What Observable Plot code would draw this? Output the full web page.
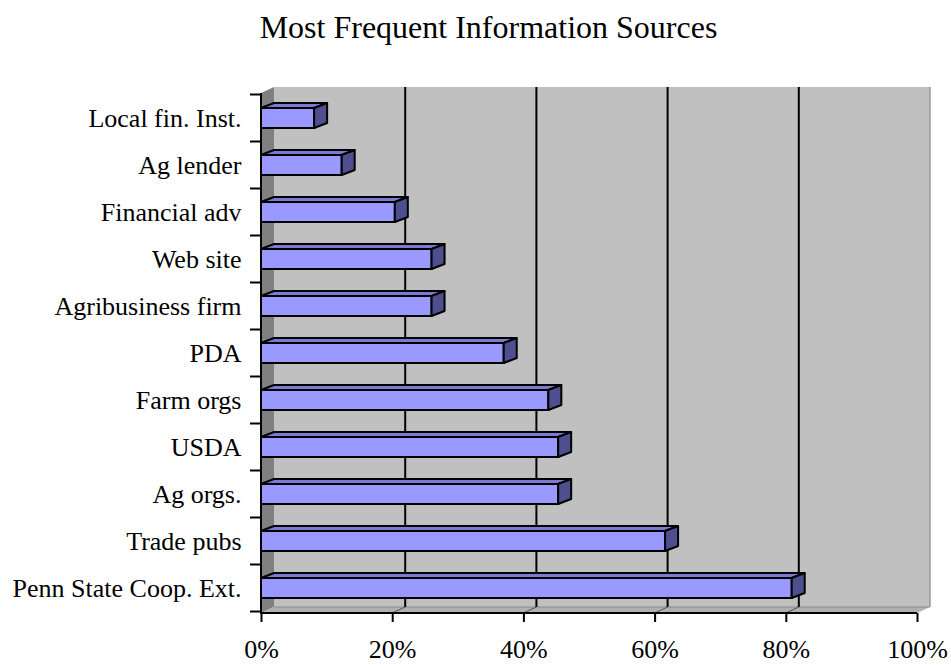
<!DOCTYPE html>
<html><head><meta charset="utf-8">
<script src="https://cdn.jsdelivr.net/npm/d3@7"></script>
<script src="https://cdn.jsdelivr.net/npm/@observablehq/plot@0.6"></script>
<style>
body{margin:0;background:#fff;font-family:"Liberation Serif","Times New Roman",serif;}
#title{height:50px;box-sizing:border-box;padding-top:11px;padding-left:26px;text-align:center;font-size:32px;line-height:32px;width:951px;color:#000;}
#chart svg{overflow:visible;}
#chart g[aria-label="x-axis tick"] path,#chart g[aria-label="y-axis tick"] path{stroke-width:2;}
</style></head><body>
<div id="title">Most Frequent Information Sources</div>
<div id="chart"></div>
<script>
const categories = ["Local fin. Inst.","Ag lender","Financial adv","Web site","Agribusiness firm","PDA","Farm orgs","USDA","Ag orgs.","Trade pubs","Penn State Coop. Ext."];
const values = [8.1, 12.3, 20.4, 26.0, 26.0, 37.0, 43.8, 45.3, 45.3, 61.6, 80.9];
const xTicks = [0, 20, 40, 60, 80, 100];
const gridValues = [20, 40, 60, 80];
const data = categories.map((c, i) => ({source: c, pct: values[i]}));

// 3D depth offsets (style)
const DX = 13, DY = 6, BDX = 13, BDY = 5;
const ns = "http://www.w3.org/2000/svg";
function el(tag, attrs) {
  const e = document.createElementNS(ns, tag);
  for (const k in attrs) e.setAttribute(k, attrs[k]);
  return e;
}
function poly(pts, fill, stroke, sw) {
  return el("polygon", {points: pts.map(d => d.join(",")).join(" "), fill, stroke: stroke || "none", "stroke-width": sw || 0, "stroke-linejoin": "round"});
}
function ln(x1, y1, x2, y2, stroke, sw) {
  return el("line", {x1, y1, x2, y2, stroke, "stroke-width": sw});
}
function bandInfo(y) {
  const bw = y.bandwidth ? y.bandwidth() : 20;
  const step = y.step ? y.step() : bw;
  return {bw, step};
}

const walls = (index, scales, values, dim) => {
  const x = scales.x;
  const x0 = x(0), x1 = x(100);
  const top = dim.marginTop, bottom = dim.height - dim.marginBottom;
  const g = el("g", {});
  g.appendChild(poly([[x0 + DX, top - DY], [x1 + DX, top - DY], [x1 + DX, bottom - DY], [x0 + DX, bottom - DY]], "#c0c0c0"));
  g.appendChild(poly([[x0, top], [x0 + DX, top - DY], [x0 + DX, bottom - DY], [x0, bottom]], "#808080"));
  g.appendChild(poly([[x0, bottom], [x0 + DX, bottom - DY], [x1 + DX, bottom - DY], [x1, bottom]], "#b0b0b0"));
  g.appendChild(ln(x0 + DX, bottom - DY, x1 + DX, bottom - DY, "#8a8a8a", 1));
  g.appendChild(ln(x1 + DX, top - DY, x1 + DX, bottom - DY, "#9a9a9a", 1.5));
  for (const v of gridValues) {
    g.appendChild(ln(x(v) + DX, top - DY, x(v) + DX, bottom - DY, "#000", 2));
    g.appendChild(ln(x(v), bottom, x(v) + DX, bottom - DY, "#555", 1));
  }
  return g;
};

const barSides = (index, scales, values, dim) => {
  const x = scales.x, y = scales.y;
  const {bw} = bandInfo(y);
  const x0 = x(0);
  const g = el("g", {});
  data.forEach(d => {
    const yt = y(d.source), xe = x(d.pct);
    g.appendChild(poly([[x0, yt], [x0 + BDX, yt - BDY], [xe + BDX, yt - BDY], [xe, yt]], "#7b7bd3", "#000", 2));
    g.appendChild(poly([[xe, yt], [xe + BDX, yt - BDY], [xe + BDX, yt + bw - BDY], [xe, yt + bw]], "#4f4f8f", "#000", 2));
  });
  return g;
};

const axesLines = (index, scales, values, dim) => {
  const x = scales.x, y = scales.y;
  const {bw, step} = bandInfo(y);
  const x0 = x(0), x1 = x(100);
  const top = dim.marginTop, bottom = dim.height - dim.marginBottom;
  const g = el("g", {});
  const pad = (step - bw) / 2;
  categories.forEach(c => g.appendChild(ln(x0 - 11, y(c) - pad, x0, y(c) - pad, "#000", 2)));
  g.appendChild(ln(x0 - 11, y(categories[categories.length - 1]) + bw + pad, x0, y(categories[categories.length - 1]) + bw + pad, "#000", 2));
  g.appendChild(ln(x0, top, x0, bottom + 1, "#000", 2));
  g.appendChild(ln(x0 - 1, bottom, x1, bottom, "#000", 2));
  return g;
};

const chart = Plot.plot({
  width: 951,
  height: 615,
  marginTop: 43,
  marginBottom: 52,
  marginLeft: 261,
  marginRight: 34,
  style: {fontSize: "26px", fontFamily: "'Liberation Serif','Times New Roman',serif", color: "#000", background: "transparent"},
  x: {domain: [0, 100], ticks: xTicks, tickFormat: d => d + "%", tickSize: 9, tickPadding: 17, label: null},
  y: {domain: categories, paddingInner: 0.577, paddingOuter: 0.2885, tickSize: 0, tickPadding: 20, label: null},
  marks: [
    walls,
    Plot.barX(data, {x: "pct", y: "source", fill: "#9999ff", stroke: "#000", strokeWidth: 2}),
    barSides,
    axesLines
  ]
});
document.getElementById("chart").appendChild(chart);
</script>
</body></html>
